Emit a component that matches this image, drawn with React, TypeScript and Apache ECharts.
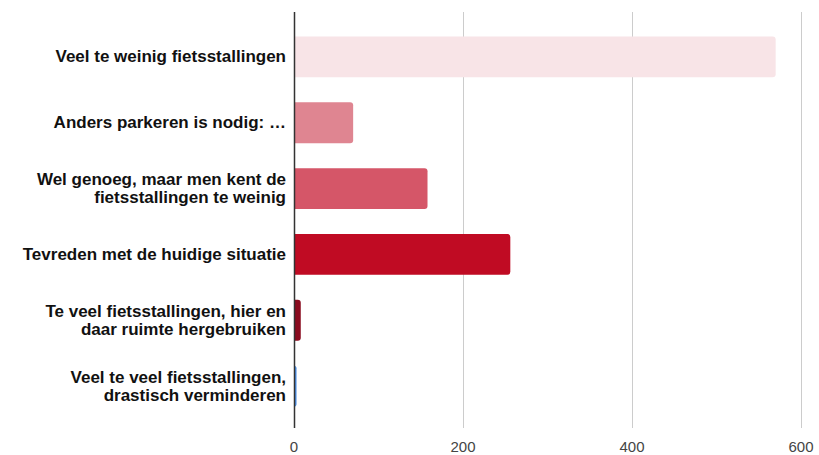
import React, { useEffect, useRef } from "react";
import * as echarts from "echarts";

const categories = [
  "Veel te weinig fietsstallingen",
  "Anders parkeren is nodig: …",
  "Wel genoeg, maar men kent de\nfietsstallingen te weinig",
  "Tevreden met de huidige situatie",
  "Te veel fietsstallingen, hier en\ndaar ruimte hergebruiken",
  "Veel te veel fietsstallingen,\ndrastisch verminderen",
];
const values = [570, 70, 158, 256, 8, 3];
const barColors = ["#f8e4e7", "#df8591", "#d55668", "#c00b23", "#8a0b1f", "#4a8fe6"];
const xTicks = [0, 200, 400, 600];

export default function App() {
  const ref = useRef<HTMLDivElement>(null);
  useEffect(() => {
    if (!ref.current) return;
    const chart = echarts.init(ref.current, undefined, { renderer: "svg" });
    const font = "'Liberation Sans', Arial, sans-serif";
    chart.setOption({
      animation: false,
      grid: { left: 294, right: 18, top: 24, bottom: 36, containLabel: false },
      xAxis: {
        type: "value",
        min: 0,
        max: 600,
        interval: 200,
        axisLine: { show: false },
        axisTick: { show: false },
        splitLine: { show: false },
        axisLabel: { color: "#444", fontSize: 15, fontFamily: font, margin: 20 },
      },
      yAxis: {
        type: "category",
        inverse: true,
        data: categories,
        axisLine: { show: false },
        axisTick: { show: false },
        axisLabel: {
          color: "#111",
          fontSize: 17,
          fontWeight: "bold",
          fontFamily: font,
          margin: 8,
          lineHeight: 18,
          align: "right",
        },
      },
      series: [
        {
          type: "bar",
          barWidth: "62%",
          data: values.map((v, i) => ({
            value: v,
            itemStyle: { color: barColors[i], borderRadius: [0, 3, 3, 0] },
          })),
        },
      ],
    });
    const top = 12;
    const bottom = 428;
    const lines: any[] = xTicks.map((t) => {
      const x = Math.round(chart.convertToPixel({ gridIndex: 0 }, [t, 0])[0]) + 0.5;
      return {
        type: "line",
        z: t === 0 ? 10 : -1,
        shape: { x1: x, y1: top, x2: x, y2: bottom },
        style: { stroke: t === 0 ? "#333" : "#cccccc", lineWidth: t === 0 ? 1.5 : 1 },
      };
    });
    chart.setOption({ graphic: lines });
    return () => chart.dispose();
  }, []);
  return <div ref={ref} style={{ width: 819, height: 455, position: "absolute", left: 0, top: 0 }} />;
}
